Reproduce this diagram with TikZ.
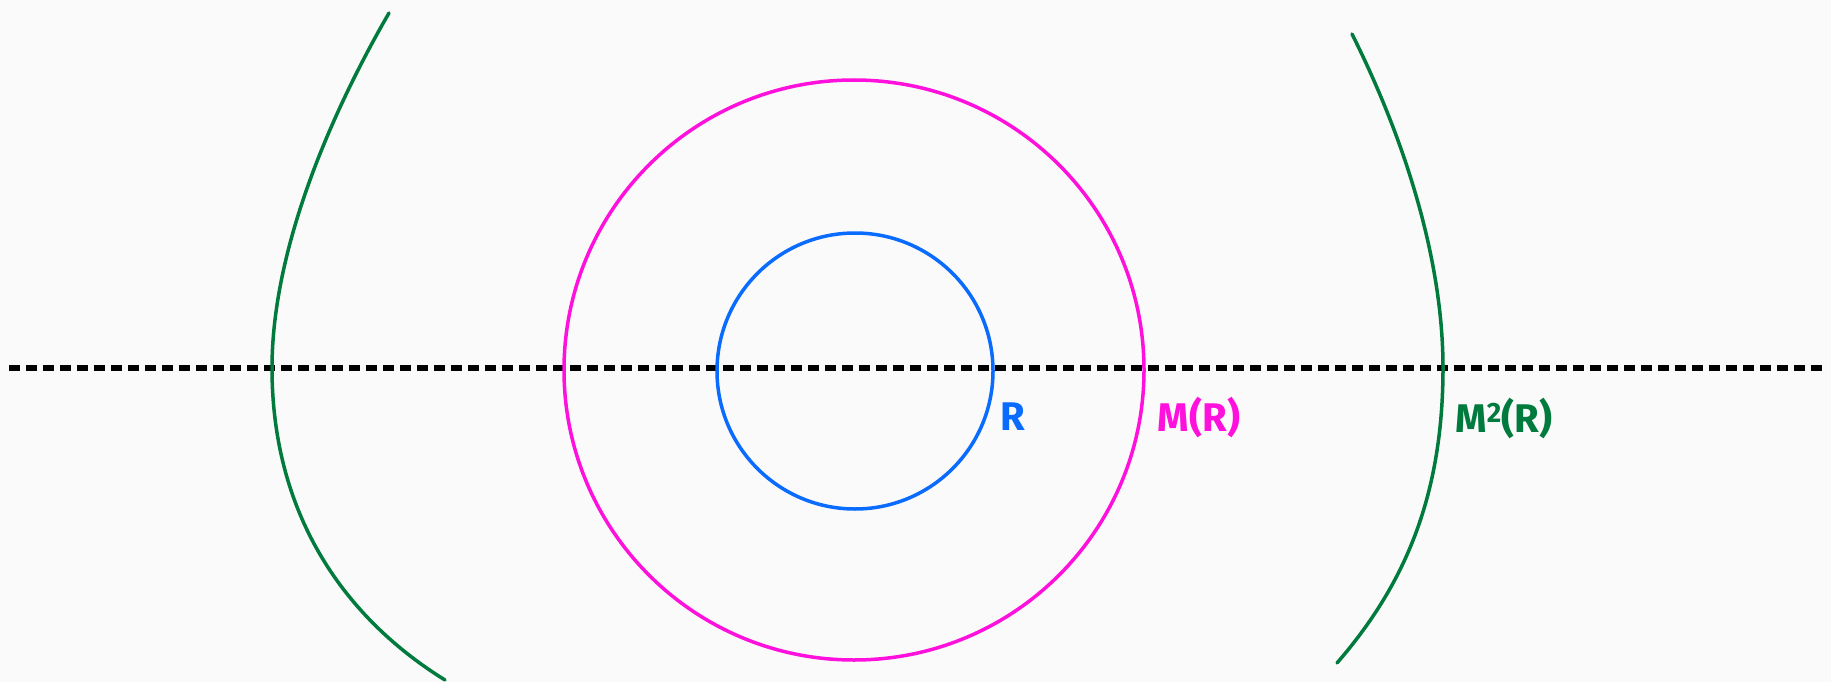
\documentclass[tikz,border=0pt]{standalone}
\usepackage{fontspec}
\setsansfont{Fira Sans}
\usetikzlibrary{positioning}
\definecolor{bgcol}{HTML}{FAFAFA}
\definecolor{ringblue}{HTML}{0A6CFF}
\definecolor{ringpink}{HTML}{FF10DC}
\definecolor{curvegreen}{HTML}{007A3D}
\tikzset{
  ring/.style={line width=3.5pt},
  axis line/.style={line width=5.5pt, dash pattern=on 11pt off 6pt},
  lbl/.style={font=\fontsize{40}{44}\selectfont\sffamily\bfseries, inner sep=0pt}
}
\begin{document}
\begin{tikzpicture}[x=1pt,y=-1pt]
\fill[bgcol] (0,0) rectangle (1831,682);
\useasboundingbox (0,0) rectangle (1831,682);
% Horizontal axis
\draw[axis line] (9,368) -- (1822,368);
% Set R and its image
\draw[ring, ringblue] (855,371) circle (138);
\draw[ring, ringpink] (854,370) circle (290);
% Second image, two branches
\coordinate (lt) at (389,13);
\coordinate (lv) at (272,368);
\coordinate (lb) at (445,680);
\draw[ring, curvegreen, line cap=round] (lt) .. controls (330,115) and (272,250) .. (lv)
  .. controls (272,510) and (340,615) .. (lb);
\coordinate (rt) at (1352,34);
\coordinate (rv) at (1443,368);
\coordinate (rb) at (1337,663);
\draw[ring, curvegreen, line cap=round] (rt) .. controls (1405,140) and (1443,260) .. (rv)
  .. controls (1443,500) and (1402,588) .. (rb);
% Labels
\node[lbl, text=ringblue] (lR) at (1013,417) {R};
\node[lbl, text=ringpink] (lMR) at (1199,417) {M(R)};
\node[lbl, text=curvegreen] (lMMR) at (1504,418) {M\textsuperscript{2}(R)};
\end{tikzpicture}
\end{document}
